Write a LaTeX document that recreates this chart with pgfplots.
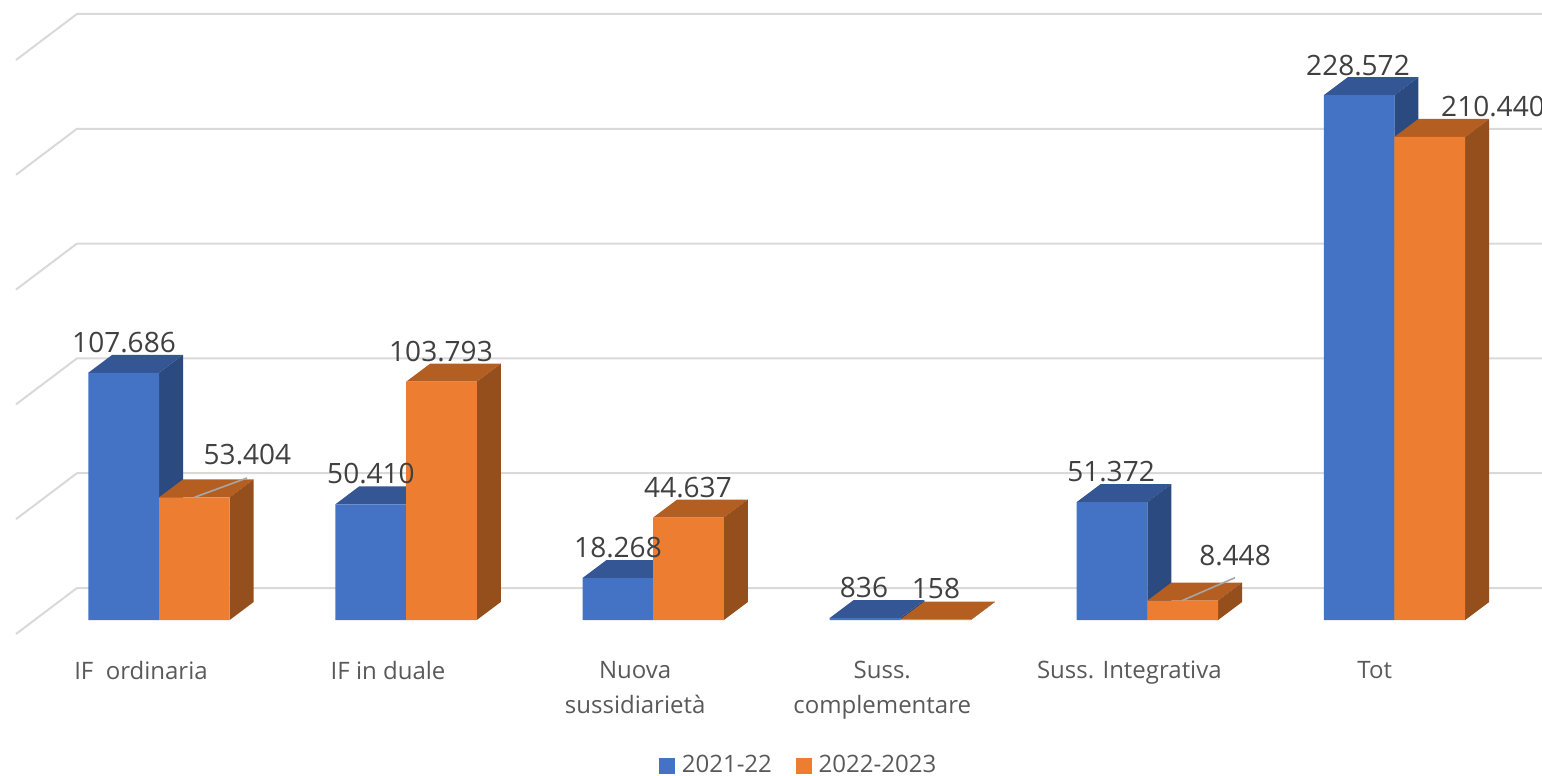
\documentclass[border=0pt]{standalone}
\usepackage{fontspec}
\setmainfont{Open Sans}
\usepackage{pgfplots}
\usepackage{pgfplotstable}
\pgfplotsset{compat=1.18}

\definecolor{blueF}{HTML}{4472C4}
\definecolor{blueT}{HTML}{345694}
\definecolor{blueS}{HTML}{2A4A80}
\definecolor{oranF}{HTML}{ED7D31}
\definecolor{oranT}{HTML}{B45F21}
\definecolor{oranS}{HTML}{954F1C}
\definecolor{gridc}{HTML}{D9D9D9}
\definecolor{labc}{HTML}{404040}
\definecolor{catc}{HTML}{595959}

\pgfplotstableread{
i a b
0 107686 53404
1 50410 103793
2 18268 44637
3 836 158
4 51372 8448
5 228572 210440
}\barsdata

% 1 px = 0.5 pt, bar 70.7 px wide, depth 24 px across and 18 px up (= 7840)
\newcommand{\bw}{0.2861}
\newcommand{\dpx}{0.0971}

% top and side of one bar: left edge, value, top colour, side colour
\newcommand{\faces}[4]{%
  \pgfmathsetmacro\xl{#1}%
  \pgfmathsetmacro\xr{#1+\bw}%
  \pgfmathsetmacro\xlb{#1+\dpx}%
  \pgfmathsetmacro\xrb{#1+\bw+\dpx}%
  \edef\ytop{\the\numexpr#2+7840\relax}%
  \edef\tmp{%
    \noexpand\addplot[fill=#3,draw=none] coordinates {(\xl,#2)(\xr,#2)(\xrb,\ytop)(\xlb,\ytop)};
    \noexpand\addplot[fill=#4,draw=none] coordinates {(\xr,0)(\xrb,7840)(\xrb,\ytop)(\xr,#2)};
  }\tmp
}
% gridline: floor edge then back wall
\newcommand{\gridl}[1]{%
  \edef\ya{\the\numexpr#1-6098\relax}%
  \edef\yb{\the\numexpr#1+13937\relax}%
  \edef\tmp{\noexpand\addplot[gridc,line width=1pt] coordinates {(-0.5788,\ya)(-0.3322,\yb)(5.6,\yb)};}\tmp
}
\newcommand{\vlab}[3]{\node[anchor=base,font=\fontsize{14}{16}\selectfont,text=labc,inner sep=0pt] at (rel axis cs:#1/1542,1-#2/776) {#3};}

\begin{document}
\begin{tikzpicture}
\clip (0,0) rectangle (771pt,388pt);
\begin{axis}[
    at={(0,0)}, anchor=south west,
    scale only axis,
    width=771pt, height=388pt,
    xmin=-0.6435, xmax=5.597,
    ymin=-67944, ymax=270035,
    axis line style={draw=none},
    major tick length=0pt,
    ytick=\empty,
    xtick={-0.073,0.927,1.927,2.927,3.927,4.920},
    xticklabels={IF\ \ ordinaria,IF in duale,Nuova\\sussidiarietà,Suss.\\complementare,Suss. Integrativa,Tot},
    xticklabel style={font=\fontsize{12}{17.5}\selectfont,text=catc,align=center,anchor=north,yshift=61pt},
    legend style={at={(rel axis cs:0.4274,-0.005)},anchor=south west,draw=none,fill=none,
      font=\fontsize{12}{14}\selectfont,text=catc,legend columns=2,inner sep=0pt,outer sep=0pt,
      /tikz/every even column/.append style={column sep=10pt},
      /tikz/every odd column/.append style={column sep=1.5pt}},
    legend cell align=left,
]
\addlegendimage{legend image code/.code={\fill[blueF] (0,-3.7pt) rectangle (7.5pt,3.7pt);}}
\addlegendentry{2021-22}
\addlegendimage{legend image code/.code={\fill[oranF] (0,-3.7pt) rectangle (7.5pt,3.7pt);}}
\addlegendentry{2022-2023}

\gridl{0}
\gridl{50000}
\gridl{100000}
\gridl{150000}
\gridl{200000}
\gridl{250000}

\pgfplotsinvokeforeach{0,...,5}{
  \pgfplotstablegetelem{#1}{a}\of\barsdata
  \edef\va{\pgfplotsretval}
  \pgfplotstablegetelem{#1}{b}\of\barsdata
  \edef\vb{\pgfplotsretval}
  \pgfmathsetmacro\xa{#1-\bw}
  \faces{\xa}{\va}{blueT}{blueS}
  \faces{#1}{\vb}{oranT}{oranS}
}

\addplot[ybar,bar width=35.35pt,bar shift=-17.675pt,fill=blueF,draw=none] table[x=i,y=a] {\barsdata};
\addplot[ybar,bar width=35.35pt,bar shift=17.675pt,fill=oranF,draw=none] table[x=i,y=b] {\barsdata};

\draw[color=black!35,line width=0.8pt] (rel axis cs:194/1542,1-497.5/776) -- (rel axis cs:247/1542,1-478/776);
\draw[color=black!35,line width=0.8pt] (rel axis cs:1182/1542,1-600.7/776) -- (rel axis cs:1235/1542,1-577.7/776);

\vlab{124}{353}{107.686}
\vlab{247.5}{465}{53.404}
\vlab{371}{484}{50.410}
\vlab{441}{362}{103.793}
\vlab{618}{558}{18.268}
\vlab{688}{498}{44.637}
\vlab{864}{598}{836}
\vlab{936}{599}{158}
\vlab{1111}{482}{51.372}
\vlab{1235}{566}{8.448}
\vlab{1358}{76}{228.572}
\vlab{1493}{117}{210.440}
\end{axis}
\end{tikzpicture}
\end{document}
